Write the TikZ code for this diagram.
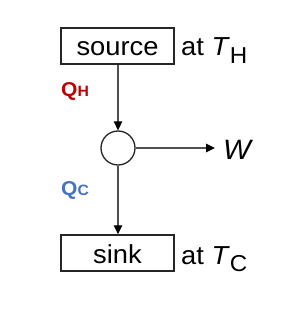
\documentclass[tikz,border=0pt]{standalone}
\usepackage{fontspec}
\setmainfont[FakeStretch=1.05]{Liberation Sans}
\usetikzlibrary{arrows.meta}
\definecolor{qred}{HTML}{C00000}
\definecolor{qblue}{HTML}{4472C4}
\definecolor{linegray}{HTML}{505050}
\tikzset{
  reservoir/.style={draw=black!85, line width=1.4pt, minimum width=113pt, minimum height=36pt, inner sep=0pt, text height=20pt, text depth=0pt, font=\fontsize{26}{26}\selectfont},
  label/.style={inner sep=0pt, anchor=base west, font=\fontsize{26}{26}\selectfont},
  flow/.style={draw=linegray, line width=1.3pt, -{Triangle[length=9pt,width=8.5pt,color=black]}},
  heat/.style={inner sep=0pt, anchor=base west, font=\fontsize{20}{20}\selectfont\bfseries}
}
\begin{document}
\begin{tikzpicture}[x=1pt,y=-1pt]
\useasboundingbox (0,0) rectangle (297,310);
\node[reservoir] (source) at (117.5,46) {source};
\node[reservoir] (sink) at (117.5,253) {sink};
\node[draw=black!85, line width=1.3pt, circle, minimum size=34pt, inner sep=0pt] (engine) at (118,148) {};
\node[label] (th) at (181,56) {at \textit{T}\raisebox{-7.5pt}{\fontsize{23}{23}\selectfont H}};
\node[label] (tc) at (181,264) {at \textit{T}\raisebox{-7.5pt}{\fontsize{23}{23}\selectfont C}};
\node[heat, text=qred] (qh) at (61,97) {Q{\fontsize{15}{15}\selectfont H}};
\node[heat, text=qblue] (qc) at (61,195) {Q{\fontsize{15}{15}\selectfont C}};
\node[inner sep=0pt, anchor=base west, font=\fontsize{28}{28}\selectfont\itshape] (w) at (223,159.5) {W};
\draw[flow] (source.south -| engine) -- (engine.north);
\draw[flow] (engine.south) -- (sink.north -| engine);
\draw[flow, shorten >=8pt] (engine.east) -- (engine.east -| w.west);
\end{tikzpicture}
\end{document}
